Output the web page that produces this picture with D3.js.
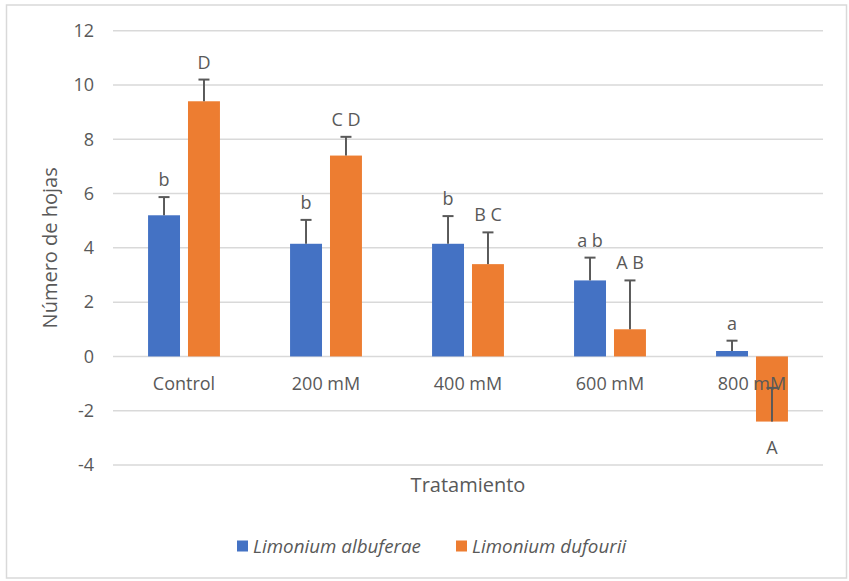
<!DOCTYPE html>
<html>
<head>
<meta charset="utf-8">
<script src="https://cdn.jsdelivr.net/npm/d3@7"></script>
<style>
  html, body { margin: 0; padding: 0; background: #fff; }
  svg { display: block; font-family: "Open Sans", "Noto Sans", sans-serif; }
</style>
</head>
<body>
<svg id="chart" width="849" height="581"></svg>
<script>
// Treatments (NaCl concentration)
const categories = ["Control", "200 mM", "400 mM", "600 mM", "800 mM"];

// Series names
const seriesNames = ["Limonium albuferae", "Limonium dufourii"];

// Mean number of leaves per treatment
const albuferae = [5.2, 4.15, 4.15, 2.8, 0.2];
const dufourii = [9.4, 7.4, 3.4, 1.0, -2.4];

// Standard error (plus direction)
const albuferaeErr = [0.67, 0.88, 1.02, 0.84, 0.38];
const dufouriiErr = [0.8, 0.69, 1.17, 1.8, 1.24];

// Significance letters
const albuferaeLetters = ["b", "b", "b", "a b", "a"];
const dufouriiLetters = ["D", "C D", "B C", "A B", "A"];

// Y axis ticks
const yTicks = [-4, -2, 0, 2, 4, 6, 8, 10, 12];

const colors = ["#4472C4", "#ED7D31"];
const textColor = "#595959";
const gridColor = "#d9d9d9";

const svg = d3.select("#chart");

// outer chart frame
svg.append("rect")
  .attr("x", 6.5).attr("y", 5).attr("width", 840).attr("height", 573)
  .attr("fill", "#fff").attr("stroke", gridColor).attr("stroke-width", 1.5);

const plot = { left: 113, right: 823, top: 30.7, bottom: 465 };

const y = d3.scaleLinear().domain([-4, 12]).range([plot.bottom, plot.top]);
const x0 = d3.scaleBand().domain(categories).range([plot.left, plot.right]).padding(0);
const barW = x0.bandwidth() * 0.225;
const barGap = barW * 0.25;
const x1 = d3.scaleOrdinal().domain([0, 1]).range([
  x0.bandwidth() / 2 - barGap / 2 - barW,
  x0.bandwidth() / 2 + barGap / 2
]);

// horizontal gridlines
svg.append("g")
  .selectAll("line")
  .data(yTicks)
  .join("line")
  .attr("x1", plot.left).attr("x2", plot.right)
  .attr("y1", d => y(d)).attr("y2", d => y(d))
  .attr("stroke", gridColor).attr("stroke-width", 1.5);

// y axis tick labels (plain hyphen for negatives)
const yAxis = d3.axisLeft(y).tickValues(yTicks).tickSize(0).tickPadding(0)
  .tickFormat(d => String(d));
const gy = svg.append("g").attr("transform", `translate(${94},0)`).call(yAxis);
gy.select(".domain").remove();
gy.selectAll("text")
  .attr("fill", textColor)
  .attr("font-size", 18)
  .attr("font-family", "Open Sans, Noto Sans, sans-serif");

const series = [
  { name: seriesNames[0], values: albuferae, err: albuferaeErr, letters: albuferaeLetters },
  { name: seriesNames[1], values: dufourii, err: dufouriiErr, letters: dufouriiLetters }
];

const rows = [];
series.forEach((s, si) => {
  categories.forEach((c, ci) => {
    rows.push({ si, cat: c, v: s.values[ci], e: s.err[ci], letter: s.letters[ci] });
  });
});

// bars
svg.append("g")
  .selectAll("rect")
  .data(rows)
  .join("rect")
  .attr("x", d => x0(d.cat) + x1(d.si))
  .attr("width", barW)
  .attr("y", d => y(Math.max(0, d.v)))
  .attr("height", d => Math.abs(y(d.v) - y(0)))
  .attr("fill", d => colors[d.si]);

// x axis category labels
svg.append("g")
  .selectAll("text")
  .data(categories)
  .join("text")
  .attr("x", d => x0(d) + x0.bandwidth() / 2)
  .attr("y", 390)
  .attr("text-anchor", "middle")
  .attr("font-size", 18)
  .attr("fill", textColor)
  .text(d => d);

// error bars (plus direction)
const capHalf = 5.5;
const eb = svg.append("g").attr("stroke", textColor).attr("stroke-width", 2).attr("fill", "none");
rows.forEach(d => {
  const cx = x0(d.cat) + x1(d.si) + barW / 2;
  const y0 = y(d.v), y1 = y(d.v + d.e);
  eb.append("line").attr("x1", cx).attr("x2", cx).attr("y1", y0).attr("y2", y1);
  eb.append("line").attr("x1", cx - capHalf).attr("x2", cx + capHalf).attr("y1", y1).attr("y2", y1);
});

// significance letters
svg.append("g")
  .selectAll("text")
  .data(rows)
  .join("text")
  .attr("x", d => x0(d.cat) + x1(d.si) + barW / 2)
  .attr("y", d => d.v >= 0 ? y(d.v + d.e) - 11 : y(d.v) + 32)
  .attr("text-anchor", "middle")
  .attr("font-size", 18)
  .attr("fill", textColor)
  .text(d => d.letter);

// axis titles
svg.append("text")
  .attr("x", (plot.left + plot.right) / 2)
  .attr("y", 491.5)
  .attr("text-anchor", "middle")
  .attr("font-size", 20)
  .attr("fill", textColor)
  .text("Tratamiento");

svg.append("text")
  .attr("transform", `translate(57,${(plot.top + plot.bottom) / 2}) rotate(-90)`)
  .attr("text-anchor", "middle")
  .attr("font-size", 20)
  .attr("fill", textColor)
  .text("Número de hojas");

// legend
const legendX = [237, 456];
const lg = svg.append("g");
series.forEach((s, i) => {
  lg.append("rect")
    .attr("x", legendX[i]).attr("y", 540.5)
    .attr("width", 11).attr("height", 11)
    .attr("fill", colors[i]);
  lg.append("text")
    .attr("x", legendX[i] + 16)
    .attr("y", 552.5)
    .attr("font-size", 18.8)
    .attr("font-style", "italic")
    .attr("fill", textColor)
    .text(s.name);
});
</script>
</body>
</html>
